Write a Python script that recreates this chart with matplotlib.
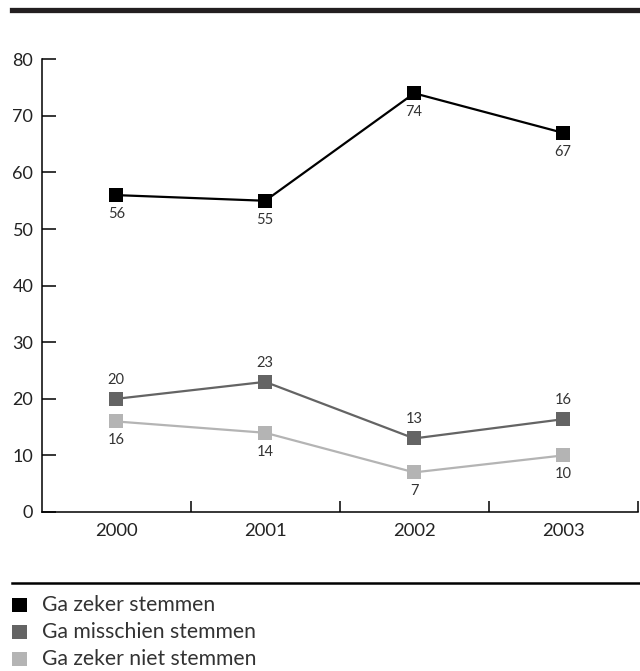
import matplotlib
matplotlib.use("Agg")
import matplotlib.pyplot as plt
from matplotlib.lines import Line2D
from matplotlib.patches import Rectangle

plt.rcParams['font.family'] = ['Lato', 'DejaVu Sans']

# data
years = ['2000', '2001', '2002', '2003']
zeker = [56, 55, 74, 67]
misschien = [20, 23, 13, 16.4]
niet = [16, 14, 7, 10]
labels_zeker = ['56', '55', '74', '67']
labels_misschien = ['20', '23', '13', '16']
labels_niet = ['16', '14', '7', '10']
series_names = ['Ga zeker stemmen', 'Ga misschien stemmen', 'Ga zeker niet stemmen']
colors = ['#000000', '#646464', '#b4b4b4']

W, H = 640, 671
fig = plt.figure(figsize=(W / 100, H / 100), dpi=100)
ax = fig.add_axes([41.7 / W, (H - 512) / H, (637.7 - 41.7) / W, (512 - 59.3) / H])

x = list(range(len(years)))
series = [(zeker, labels_zeker, -19), (misschien, labels_misschien, 19), (niet, labels_niet, -19)]
for (vals, labs, off), c in zip(series, colors):
    ax.plot(x, vals, color=c, lw=1.6, marker='s', markersize=9.4, markeredgewidth=0, zorder=3)
    for xi, v, t in zip(x, vals, labs):
        ax.annotate(t, (xi, v), xytext=(0, off * 0.72), textcoords='offset points',
                    ha='center', va='center', fontsize=10.5, color='#333333')

ax.set_xlim(-0.5, 3.5)
ax.set_ylim(0, 80)
ax.set_yticks(range(0, 81, 10))
ax.set_xticks([0.5, 1.5, 2.5, 3.5])
ax.set_xticklabels([])
ax.set_xticks(x, minor=True)
ax.set_xticklabels(years, minor=True)
ax.tick_params(axis='x', which='minor', length=0, pad=8, labelsize=13.3, labelcolor='#222222')
ax.tick_params(axis='x', which='major', direction='in', length=8, width=1.1)
ax.tick_params(axis='y', direction='in', length=10, width=1.1, pad=6, labelsize=13, labelcolor='#222222')
for s in ['top', 'right']:
    ax.spines[s].set_visible(False)
for s in ['left', 'bottom']:
    ax.spines[s].set_linewidth(1.1)

# rules above and below
fig.add_artist(Line2D([12 / W, 1], [1 - 10 / H] * 2, lw=3.8, color='#231f20'))
fig.add_artist(Line2D([12 / W, 1], [1 - 582.7 / H] * 2, lw=1.8, color='#000000'))

# legend
for i, (name, c) in enumerate(zip(series_names, colors)):
    yc = 605 + i * 27.2
    fig.add_artist(Rectangle((12 / W, 1 - (yc + 7) / H), 14.5 / W, 14.5 / H,
                             transform=fig.transFigure, color=c, lw=0))
    fig.text(41.7 / W, 1 - yc / H, name, ha='left', va='center', fontsize=15.2, color='#333333')

fig.savefig('out.png', dpi=100)
